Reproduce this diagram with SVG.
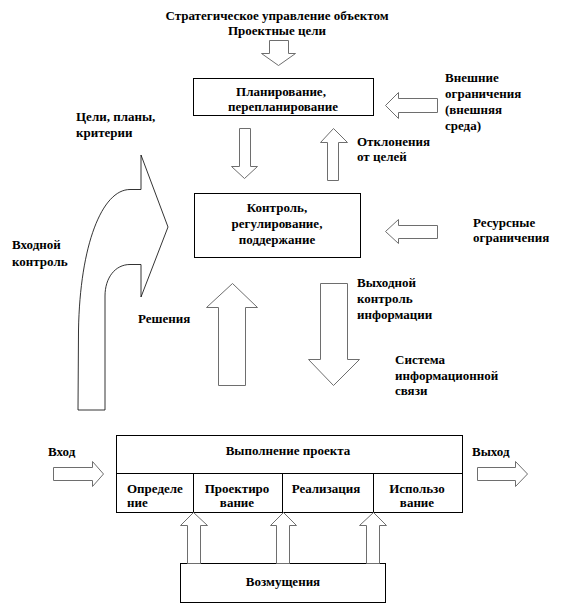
<svg xmlns="http://www.w3.org/2000/svg" width="566" height="605" viewBox="0 0 566 605">
<style>
text{font-family:'Liberation Serif','Times New Roman',serif;font-weight:bold;font-size:13px;fill:#000}
.c{text-anchor:middle}
.box{fill:#fff;stroke:#000;stroke-width:1}
.arr{fill:#fff;stroke:#6e6e6e;stroke-width:1;stroke-linejoin:miter}
.big{fill:#fff;stroke:#000;stroke-width:0.8}
</style>
<rect width="566" height="605" fill="#fff"/>
<g id="title">
<text class="c" x="277" y="20">Стратегическое  управление объектом</text>
<text class="c" x="277" y="35">Проектные цели</text>
</g>
<g id="planning">
<rect class="box" x="193.5" y="78.5" width="180" height="37"/>
<text class="c" x="281" y="96">Планирование,</text>
<text class="c" x="283" y="111">перепланирование</text>
</g>
<g id="control">
<rect class="box" x="194.5" y="193.5" width="166" height="64"/>
<text class="c" x="277" y="212">Контроль,</text>
<text class="c" x="277" y="228">регулирование,</text>
<text class="c" x="277" y="244">поддержание</text>
</g>
<g id="project">
<rect class="box" x="116.5" y="435.5" width="346" height="77"/>
<line x1="116.5" y1="473.5" x2="462.5" y2="473.5" stroke="#000"/>
<line x1="193.5" y1="473.5" x2="193.5" y2="512.5" stroke="#000"/>
<line x1="282.5" y1="473.5" x2="282.5" y2="512.5" stroke="#000"/>
<line x1="373.5" y1="473.5" x2="373.5" y2="512.5" stroke="#000"/>
<text class="c" x="288" y="455">Выполнение проекта</text>
<text x="127" y="493">Определе</text>
<text x="127" y="507">ние</text>
<text class="c" x="237" y="493">Проектиро</text>
<text class="c" x="237" y="507">вание</text>
<text class="c" x="326" y="493">Реализация</text>
<text class="c" x="417" y="493">Использо</text>
<text class="c" x="417" y="507">вание</text>
</g>
<g id="disturbances">
<rect class="box" x="180.5" y="563.5" width="205" height="39"/>
<text class="c" x="283" y="586">Возмущения</text>
</g>
<g id="labels">
<text x="445" y="82">Внешние</text>
<text x="445" y="98">ограничения</text>
<text x="445" y="114">(внешняя</text>
<text x="445" y="130">среда)</text>
<text x="357" y="146">Отклонения</text>
<text x="357" y="161">от целей</text>
<text x="76" y="121">Цели, планы,</text>
<text x="76" y="137">критерии</text>
<text x="12" y="249">Входной</text>
<text x="12" y="266">контроль</text>
<text x="473" y="227">Ресурсные</text>
<text x="473" y="242">ограничения</text>
<text x="138" y="323">Решения</text>
<text x="357" y="287">Выходной</text>
<text x="357" y="303">контроль</text>
<text x="357" y="319">информации</text>
<text x="395" y="364">Система</text>
<text x="395" y="380">информационной</text>
<text x="395" y="395">связи</text>
<text x="48" y="456">Вход</text>
<text x="472" y="456">Выход</text>
</g>
<g id="connectors">
<polygon class="arr" points="269.5,40.5 288.5,40.5 288.5,53.5 295.5,53.5 278.5,65.5 261.5,53.5 269.5,53.5"/>
<polygon class="arr" points="239.5,128.5 250.5,128.5 250.5,166.5 257.5,166.5 244.5,178.5 231.5,166.5 239.5,166.5"/>
<polygon class="arr" points="327.5,180.5 338.5,180.5 338.5,142.5 347.5,142.5 333.5,128.5 320.5,142.5 327.5,142.5"/>
<polygon class="arr" points="437.5,98.5 437.5,112.5 398.5,112.5 398.5,118.5 385.5,105.5 398.5,92.5 398.5,98.5"/>
<polygon class="arr" points="437.5,225.5 437.5,238.5 398.5,238.5 398.5,243.5 385.5,231.5 398.5,219.5 398.5,225.5"/>
<polygon class="arr" points="218.5,385.5 245.5,385.5 245.5,307.5 257.5,307.5 232.5,283.5 206.5,307.5 218.5,307.5"/>
<polygon class="arr" points="320.5,283.5 347.5,283.5 347.5,359.5 359.5,359.5 333.5,385.5 308.5,359.5 320.5,359.5"/>
<polygon class="arr" points="53.5,467.5 92.5,467.5 92.5,461.5 103.5,474 92.5,486.5 92.5,480.5 53.5,480.5"/>
<polygon class="arr" points="477.5,467.5 515.5,467.5 515.5,461.5 527.5,474 515.5,486.5 515.5,480.5 477.5,480.5"/>
<polygon class="arr" points="187.5,563.5 200.5,563.5 200.5,525.5 207.5,525.5 193.5,512.5 180.5,525.5 187.5,525.5"/>
<polygon class="arr" points="276.5,563.5 289.5,563.5 289.5,525.5 296.5,525.5 283.5,512.5 270.5,525.5 276.5,525.5"/>
<polygon class="arr" points="366.5,563.5 379.5,563.5 379.5,525.5 386.5,525.5 373.5,512.5 359.5,525.5 366.5,525.5"/>
<path class="big" d="M78,410 L78.5,330 C80,245 102,189.5 130,189.5 L141,189.5 L141,155 L168,227 L141,297 L141,264.5 L130,264.5 C115,264.5 105,278 105,296 L105,410 Z"/>
</g>
</svg>
